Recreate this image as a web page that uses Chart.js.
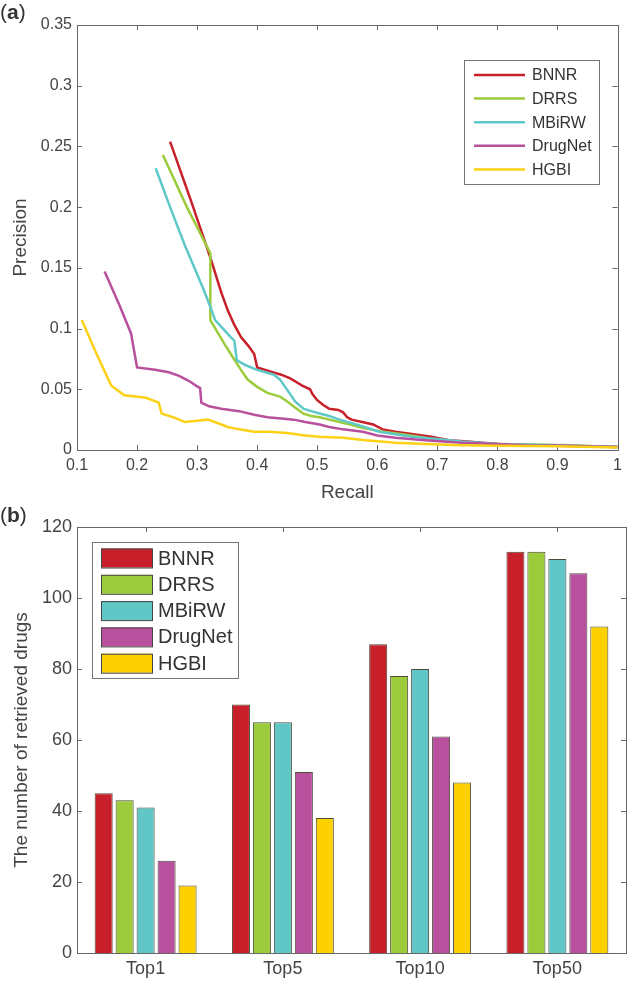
<!DOCTYPE html>
<html>
<head>
<meta charset="utf-8">
<script src="https://cdn.jsdelivr.net/npm/chart.js@4.4.1/dist/chart.umd.min.js"></script>
<style>
    html, body { margin: 0; padding: 0; background: #fff; }
    #wrap { position: relative; width: 628px; height: 981px; overflow: hidden; font-family: "Liberation Sans", Arial, sans-serif; color: #333; }
    #topBox { position: absolute; left: 0; top: 0; width: 628px; height: 505px; }
    #botBox { position: absolute; left: 0; top: 505px; width: 628px; height: 476px; }
    .tag { position: absolute; left: 0; font-size: 21px; color: #333; line-height: 24px; }
    .tag b { font-weight: bold; }
</style>
</head>
<body>
<div id="wrap">
    <div id="topBox"><canvas id="prChart" width="628" height="505"></canvas></div>
    <div id="botBox"><canvas id="topkChart" width="628" height="476"></canvas></div>
    <div class="tag" style="top:0px;">(<b>a</b>)</div>
    <div class="tag" style="top:503px;">(<b>b</b>)</div>
</div>
<script>
// methods and colours
const methods = ['BNNR', 'DRRS', 'MBiRW', 'DrugNet', 'HGBI'];
const lineColors = ['#c8202a', '#9ccb3c', '#5fc8c8', '#b9509e', '#fcd116'];
const barColors = ['#c8202a', '#9ccb3c', '#60c6c6', '#b9509e', '#fdd000'];

// (a) precision-recall curves
const bnnrRecall = [0.255, 0.29, 0.323, 0.34, 0.351, 0.362, 0.373, 0.385, 0.395, 0.40, 0.42, 0.44, 0.455, 0.465, 0.475, 0.488, 0.492, 0.50, 0.51, 0.52, 0.535, 0.543, 0.55, 0.557, 0.575, 0.593, 0.609, 0.63, 0.66, 0.69, 0.70, 0.72, 0.75, 0.80, 0.85, 0.90, 0.95, 1.0];
const bnnrPrecision = [0.254, 0.205, 0.157, 0.13, 0.115, 0.103, 0.093, 0.086, 0.079, 0.068, 0.065, 0.062, 0.059, 0.056, 0.053, 0.050, 0.046, 0.041, 0.037, 0.034, 0.033, 0.031, 0.027, 0.025, 0.023, 0.021, 0.017, 0.015, 0.013, 0.011, 0.010, 0.008, 0.007, 0.005, 0.004, 0.0035, 0.003, 0.0025];

const drrsRecall = [0.243, 0.283, 0.322, 0.322, 0.335, 0.346, 0.36, 0.373, 0.384, 0.40, 0.417, 0.438, 0.45, 0.463, 0.477, 0.49, 0.504, 0.52, 0.537, 0.555, 0.576, 0.61, 0.642, 0.67, 0.70, 0.75, 0.80, 0.85, 0.92, 1.0];
const drrsPrecision = [0.243, 0.2, 0.162, 0.107, 0.096, 0.087, 0.076, 0.066, 0.058, 0.052, 0.047, 0.044, 0.040, 0.035, 0.030, 0.028, 0.027, 0.025, 0.023, 0.021, 0.018, 0.015, 0.013, 0.011, 0.008, 0.006, 0.005, 0.0045, 0.004, 0.0025];

const mbirwRecall = [0.231, 0.255, 0.28, 0.299, 0.31, 0.322, 0.33, 0.343, 0.356, 0.362, 0.366, 0.38, 0.40, 0.428, 0.438, 0.445, 0.455, 0.463, 0.477, 0.49, 0.504, 0.52, 0.537, 0.565, 0.585, 0.603, 0.63, 0.658, 0.70, 0.74, 0.80, 0.90, 1.0];
const mbirwPrecision = [0.232, 0.2, 0.168, 0.146, 0.133, 0.118, 0.107, 0.100, 0.093, 0.090, 0.074, 0.070, 0.066, 0.062, 0.058, 0.053, 0.046, 0.040, 0.034, 0.032, 0.030, 0.028, 0.025, 0.021, 0.018, 0.015, 0.013, 0.011, 0.009, 0.007, 0.005, 0.004, 0.0025];

const drugnetRecall = [0.146, 0.17, 0.19, 0.195, 0.2, 0.23, 0.253, 0.27, 0.286, 0.298, 0.305, 0.307, 0.32, 0.34, 0.37, 0.395, 0.417, 0.44, 0.461, 0.48, 0.504, 0.52, 0.543, 0.576, 0.60, 0.63, 0.68, 0.74, 0.80, 0.85, 0.90, 1.0];
const drugnetPrecision = [0.147, 0.12, 0.096, 0.082, 0.068, 0.066, 0.064, 0.061, 0.057, 0.053, 0.051, 0.039, 0.036, 0.034, 0.032, 0.029, 0.027, 0.026, 0.025, 0.023, 0.021, 0.019, 0.017, 0.015, 0.012, 0.010, 0.008, 0.006, 0.005, 0.004, 0.0037, 0.0025];

const hgbiRecall = [0.108, 0.13, 0.157, 0.179, 0.215, 0.236, 0.241, 0.26, 0.28, 0.30, 0.318, 0.335, 0.351, 0.37, 0.395, 0.42, 0.45, 0.48, 0.504, 0.543, 0.58, 0.63, 0.68, 0.74, 0.80, 0.90, 1.0];
const hgbiPrecision = [0.107, 0.082, 0.053, 0.045, 0.043, 0.039, 0.030, 0.027, 0.023, 0.024, 0.025, 0.022, 0.019, 0.017, 0.015, 0.015, 0.014, 0.012, 0.011, 0.010, 0.008, 0.006, 0.005, 0.004, 0.0035, 0.003, 0.002];

const recallTicks = [0.1, 0.2, 0.3, 0.4, 0.5, 0.6, 0.7, 0.8, 0.9, 1];
const precisionTicks = [0, 0.05, 0.1, 0.15, 0.2, 0.25, 0.3, 0.35];

// (b) number of retrieved drugs
const topCategories = ['Top1', 'Top5', 'Top10', 'Top50'];
const bnnrCounts = [45, 70, 87, 113];
const drrsCounts = [43, 65, 78, 113];
const mbirwCounts = [41, 65, 80, 111];
const drugnetCounts = [26, 51, 61, 107];
const hgbiCounts = [19, 38, 48, 92];
const countTicks = [0, 20, 40, 60, 80, 100, 120];

const FONT = '"Liberation Sans", Arial, sans-serif';
const TEXT = '#444';
const FRAME = '#666';

function pairUp(xs, ys) {
    return xs.map((x, i) => ({ x: x, y: ys[i] }));
}
function fmt(v) {
    return String(+v.toFixed(2));
}

// MATLAB style box with inward ticks on every side
const frameTicks = {
    id: 'frameTicks',
    beforeDatasetsDraw(chart) {
        const { ctx, chartArea: a, scales } = chart;
        const len = 5;
        ctx.save();
        ctx.strokeStyle = FRAME;
        ctx.lineWidth = 1;
        ctx.beginPath();
        scales.x.ticks.forEach((t, i) => {
            const px = Math.round(scales.x.getPixelForTick(i)) + 0.5;
            ctx.moveTo(px, a.bottom); ctx.lineTo(px, a.bottom - len);
            ctx.moveTo(px, a.top); ctx.lineTo(px, a.top + len);
        });
        scales.y.ticks.forEach((t, i) => {
            const py = Math.round(scales.y.getPixelForTick(i)) + 0.5;
            ctx.moveTo(a.left, py); ctx.lineTo(a.left + len, py);
            ctx.moveTo(a.right, py); ctx.lineTo(a.right - len, py);
        });
        ctx.stroke();
        ctx.restore();
    },
    afterDatasetsDraw(chart) {
        const { ctx, chartArea: a } = chart;
        ctx.save();
        ctx.strokeStyle = FRAME;
        ctx.lineWidth = 1;
        ctx.strokeRect(Math.round(a.left) + 0.5, Math.round(a.top) + 0.5,
            Math.round(a.right - a.left), Math.round(a.bottom - a.top));
        ctx.restore();
    }
};

// legend box drawn inside the plot
const boxLegend = {
    id: 'boxLegend',
    afterDraw(chart, args, o) {
        const { ctx } = chart;
        ctx.save();
        ctx.fillStyle = '#fff';
        ctx.fillRect(o.left, o.top, o.width, o.height);
        ctx.strokeStyle = '#777';
        ctx.lineWidth = 1;
        ctx.strokeRect(o.left + 0.5, o.top + 0.5, o.width, o.height);
        ctx.font = o.fontSize + 'px ' + FONT;
        ctx.textBaseline = 'middle';
        const ds = [...chart.data.datasets].sort((p, q) => p.legendIndex - q.legendIndex);
        ds.forEach((d, i) => {
            const y = o.top + o.firstRow + i * o.rowGap;
            if (o.kind === 'line') {
                ctx.strokeStyle = d.borderColor;
                ctx.lineWidth = 2.5;
                ctx.beginPath();
                ctx.moveTo(o.sampleX, y); ctx.lineTo(o.sampleX + o.sampleW, y);
                ctx.stroke();
            } else {
                ctx.fillStyle = d.backgroundColor;
                ctx.fillRect(o.sampleX, y - o.sampleH / 2, o.sampleW, o.sampleH);
                ctx.strokeStyle = '#444';
                ctx.lineWidth = 1;
                ctx.strokeRect(o.sampleX + 0.5, y - o.sampleH / 2 + 0.5, o.sampleW, o.sampleH);
            }
            ctx.fillStyle = '#333';
            ctx.fillText(d.label, o.textX, y + 1);
        });
        ctx.restore();
    }
};

const prSeries = [
    [bnnrRecall, bnnrPrecision],
    [drrsRecall, drrsPrecision],
    [mbirwRecall, mbirwPrecision],
    [drugnetRecall, drugnetPrecision],
    [hgbiRecall, hgbiPrecision]
];

new Chart(document.getElementById('prChart'), {
    type: 'line',
    data: {
        datasets: prSeries.map((s, i) => ({
            label: methods[i],
            legendIndex: i,
            order: methods.length - i,
            data: pairUp(s[0], s[1]),
            borderColor: lineColors[i],
            borderWidth: 2.5,
            pointRadius: 0,
            fill: false,
            tension: 0
        }))
    },
    options: {
        responsive: false,
        devicePixelRatio: 1,
        animation: false,
        layout: { padding: { top: 25, right: 3, left: 0, bottom: 0 } },
        plugins: {
            legend: { display: false },
            tooltip: { enabled: false },
            boxLegend: { kind: 'line', left: 464, top: 60, width: 135, height: 124, firstRow: 15, rowGap: 23.6, sampleX: 474, sampleW: 51, textX: 532, fontSize: 16 }
        },
        scales: {
            x: {
                type: 'linear', min: 0.1, max: 1,
                afterBuildTicks: s => { s.ticks = recallTicks.map(v => ({ value: v })); },
                afterFit: s => { s.height = 55; },
                grid: { display: false, drawTicks: false },
                border: { display: false },
                ticks: { color: TEXT, font: { family: FONT, size: 16 }, padding: 6, maxRotation: 0, callback: v => fmt(v) },
                title: { display: true, text: 'Recall', color: TEXT, font: { family: FONT, size: 19 }, padding: { top: 0, bottom: 1 } }
            },
            y: {
                min: 0, max: 0.35,
                afterBuildTicks: s => { s.ticks = precisionTicks.map(v => ({ value: v })); },
                afterFit: s => { s.width = 77; },
                grid: { display: false, drawTicks: false },
                border: { display: false },
                ticks: { color: TEXT, font: { family: FONT, size: 16 }, padding: 5, callback: v => fmt(v) },
                title: { display: true, text: 'Precision', color: TEXT, font: { family: FONT, size: 19 }, padding: { top: 9, bottom: 0 } }
            }
        }
    },
    plugins: [frameTicks, boxLegend]
});

const countSeries = [bnnrCounts, drrsCounts, mbirwCounts, drugnetCounts, hgbiCounts];

new Chart(document.getElementById('topkChart'), {
    type: 'bar',
    data: {
        labels: topCategories,
        datasets: countSeries.map((c, i) => ({
            label: methods[i],
            legendIndex: i,
            data: c,
            backgroundColor: barColors[i],
            borderColor: '#4a4a3a',
            borderWidth: 1,
            borderSkipped: 'bottom',
            categoryPercentage: 0.764,
            barPercentage: 0.86
        }))
    },
    options: {
        responsive: false,
        devicePixelRatio: 1,
        animation: false,
        layout: { padding: { top: 22, right: 2, left: 0, bottom: 0 } },
        plugins: {
            legend: { display: false },
            tooltip: { enabled: false },
            boxLegend: { kind: 'box', left: 92, top: 37, width: 146, height: 136, firstRow: 16, rowGap: 26.3, sampleX: 101, sampleW: 51, sampleH: 19, textX: 158, fontSize: 20 }
        },
        scales: {
            x: {
                afterFit: s => { s.height = 28; },
                grid: { display: false, drawTicks: false },
                border: { display: false },
                ticks: { color: TEXT, font: { family: FONT, size: 18 }, padding: 5 }
            },
            y: {
                min: 0, max: 120,
                afterBuildTicks: s => { s.ticks = countTicks.map(v => ({ value: v })); },
                afterFit: s => { s.width = 77; },
                grid: { display: false, drawTicks: false },
                border: { display: false },
                ticks: { color: TEXT, font: { family: FONT, size: 18 }, padding: 5 },
                title: { display: true, text: 'The number of retrieved drugs', color: TEXT, font: { family: FONT, size: 19 }, padding: { top: 10, bottom: 0 } }
            }
        }
    },
    plugins: [frameTicks, boxLegend]
});
</script>
</body>
</html>
